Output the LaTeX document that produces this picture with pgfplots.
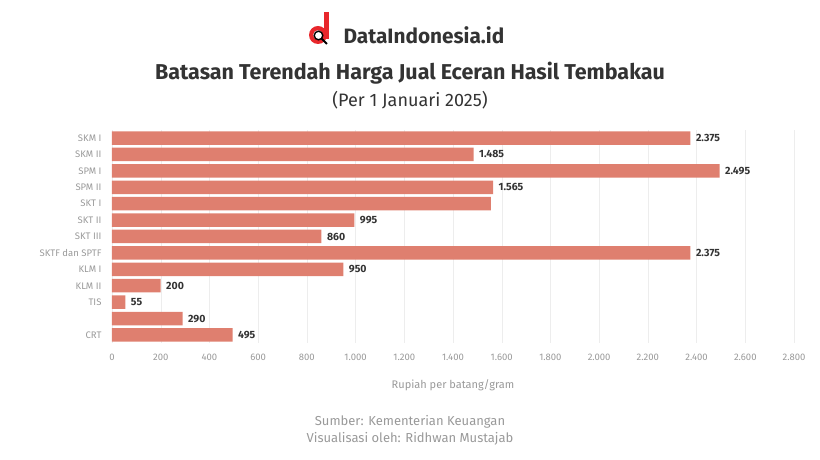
\documentclass[border=0pt]{standalone}
\usepackage{pgfplots}
\usepackage{pgfplotstable}
\usepackage{fontspec}
\setmainfont{Fira Sans}
\pgfplotsset{compat=1.18}

\definecolor{barc}{HTML}{DF7F6F}
\definecolor{txt}{HTML}{333333}
\definecolor{lgray}{HTML}{999999}
\definecolor{logored}{HTML}{E8272C}

% HJE terendah, rupiah per batang/gram
\pgfplotstableread{
y val lab
1 2375 2.375
2 1485 1.485
3 2495 2.495
4 1565 1.565
5 1555 {}
6 995 995
7 860 860
8 2375 2.375
9 950 950
10 200 200
11 55 55
12 290 290
13 495 495
}\hje

\begin{document}
\begin{tikzpicture}[x=1pt,y=1pt]
\path[use as bounding box] (0,0) rectangle (820,460);

% logo
\fill[logored] (318,425) circle (9);
\fill[logored] (323.5,421) rectangle (329,448);
\fill[white] (318,425) circle (4.8);
\draw[black,line width=1.4pt] (318.5,424.5) circle (4.3);
\draw[black,line width=1.8pt] (321.8,421.2) -- (327,416);
\node[anchor=west,text=txt,font=\fontsize{20.8}{23}\selectfont\bfseries] at (340,425) {DataIndonesia.id};

\node[text=txt,font=\fontsize{21.5}{24}\selectfont\bfseries] at (410,387) {Batasan Terendah Harga Jual Eceran Hasil Tembakau};
\node[text=txt,font=\fontsize{18}{20}\selectfont] at (410,360) {(Per 1 Januari 2025)};

\begin{axis}[
  at={(112pt,116.8pt)}, anchor=south west,
  scale only axis, width=682pt, height=213.4pt,
  xbar, bar width=13.5pt,
  xmin=0, xmax=2800,
  ymin=0.5, ymax=13.5, y dir=reverse,
  xtick={0,200,...,2800},
  ytick={1,...,13},
  yticklabels={SKM I,SKM II,SPM I,SPM II,SKT I,SKT II,SKT III,SKTF dan SPTF,KLM I,KLM II,TIS,,CRT},
  axis line style={draw=none},
  major tick length=0pt,
  xmajorgrids, grid style={draw=black!7},
  tick label style={text=lgray,font=\fontsize{9.5}{11}\selectfont},
  /pgf/number format/.cd, 1000 sep={.}, assume math mode=true,
  /pgfplots/.cd,
  xticklabel style={yshift=-7pt},
  yticklabel style={xshift=-7pt},
  point meta=explicit symbolic,
  nodes near coords,
  every node near coord/.append style={text=txt,font=\fontsize{10.5}{12}\selectfont\bfseries,anchor=west,xshift=2pt},
  xlabel={Rupiah per batang/gram},
  xlabel style={text=lgray,font=\fontsize{11}{13}\selectfont,yshift=-12pt},
]
\addplot[fill=barc,draw=none] table[x=val,y=y,meta=lab] {\hje};
\end{axis}

\node[text=lgray,font=\fontsize{13}{15}\selectfont,align=center] at (410,30) {Sumber: Kementerian Keuangan\\[2pt]Visualisasi oleh: Ridhwan Mustajab};
\end{tikzpicture}
\end{document}
